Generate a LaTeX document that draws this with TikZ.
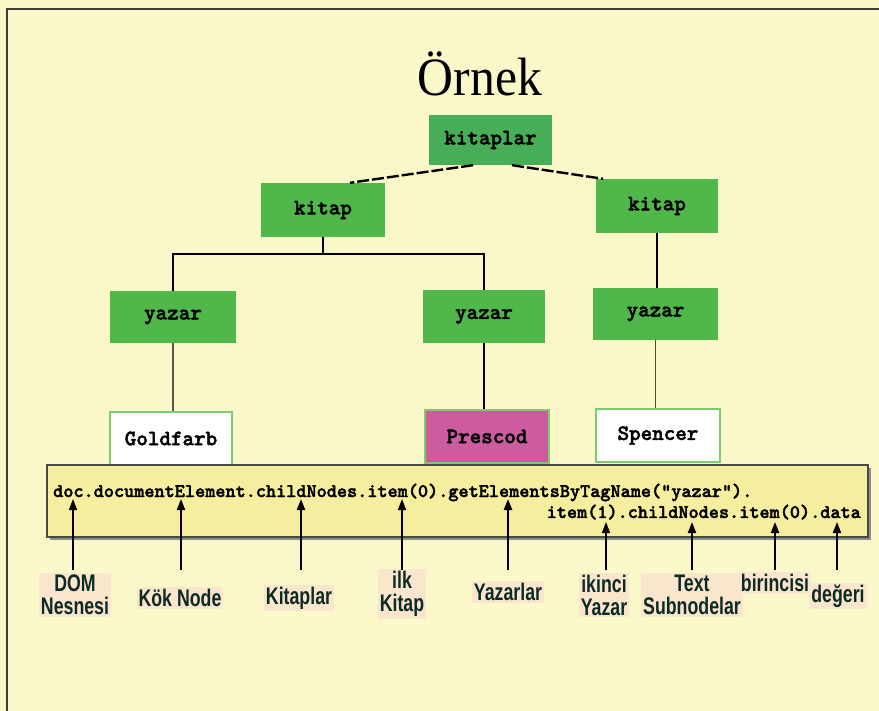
\documentclass[tikz,border=0pt]{standalone}
\usepackage{fontspec}
\setmainfont{Liberation Serif}
\newfontfamily\labfont{Liberation Sans}
\newfontfamily\codebf{lmmonolt10-bold.otf}[FakeBold=2]
\usetikzlibrary{arrows.meta}
\definecolor{bgc}{HTML}{FAF7C8}
\definecolor{framec}{HTML}{3A3A36}
\definecolor{grn}{HTML}{50B84A}
\definecolor{grnk}{HTML}{47AD58}
\definecolor{grnb}{HTML}{7ECB6C}
\definecolor{mag}{HTML}{CC5BA0}
\definecolor{codebg}{HTML}{F5EE9E}
\definecolor{codebd}{HTML}{4A4A42}
\definecolor{labbg}{HTML}{F9E6CC}
\definecolor{txt}{HTML}{0E2A26}
\newcommand{\lbl}[1]{\scalebox{0.74}[1]{#1}}
\tikzset{
  treebox/.style={rectangle, minimum height=53pt, inner sep=0pt, font=\codebf\fontsize{22}{24}\selectfont, text=black},
  greenbox/.style={treebox, fill=grn},
  valbox/.style={treebox, fill=white, draw=grnb, line width=1.5pt},
  treeline/.style={draw=black, line width=2pt},
  thinline/.style={draw=black!65, line width=1.6pt},
  lab/.style={fill=labbg, inner sep=2pt, align=center, text=txt, font=\labfont\bfseries\fontsize{24}{23}\selectfont},
  arr/.style={draw=black, line width=1.8pt, -{Triangle[length=11pt,width=8pt]}},
  arrthin/.style={draw=black, line width=1.2pt, -{Triangle[length=11pt,width=8pt]}},
  codetxt/.style={inner sep=0pt, font=\codebf\fontsize{19.3}{20}\selectfont, text=black}
}
\begin{document}
\begin{tikzpicture}[x=1pt,y=-1pt]
\fill[bgc] (0,0) rectangle (879,711);
\useasboundingbox (0,0) rectangle (879,711);
\draw[framec, line width=1.6pt] (7,711) -- (7,9) -- (879,9);

% title
\node[anchor=base, inner sep=0pt, font=\fontsize{54}{54}\selectfont] (title) at (480,96) {\scalebox{0.92}[1]{Örnek}};

% tree nodes
\node[greenbox, fill=grnk, minimum width=123pt, minimum height=50pt] (kitaplar) at (490.5,140) {kitaplar};
\node[greenbox, minimum width=124pt, minimum height=54pt] (kitapL) at (323,210) {kitap};
\node[greenbox, minimum width=122pt, minimum height=54pt] (kitapR) at (657,206) {kitap};
\node[greenbox, minimum width=126pt, minimum height=52pt] (yazarL) at (173,317) {yazar};
\node[greenbox, minimum width=122pt] (yazarM) at (484,316.5) {yazar};
\node[greenbox, minimum width=125pt, minimum height=52pt] (yazarR) at (655.5,314) {yazar};
\node[valbox, minimum width=122pt] (gold) at (171,438.5) {Goldfarb};
\node[treebox, fill=mag, draw=grnb, line width=1.5pt, minimum width=124pt] (pres) at (487,436.5) {Prescod};
\node[valbox, minimum width=124pt] (spen) at (658,435.5) {Spencer};

% tree connectors
\draw[treeline, line width=2.4pt, dash pattern=on 12pt off 3pt] ([xshift=-17.5pt]kitaplar.south) -- ([xshift=27pt]kitapL.north);
\draw[treeline, line width=2.4pt, dash pattern=on 12pt off 3pt] ([xshift=21.5pt]kitaplar.south) -- ([xshift=-54pt]kitapR.north);
\coordinate (jL) at (323,254);
\draw[treeline] (kitapL.south) -- (jL);
\draw[treeline] (jL) -| (yazarL.north);
\draw[treeline] (jL) -| (yazarM.north);
\draw[treeline, line width=1.8pt] (kitapR.south) -- (kitapR.south |- yazarR.north);
\draw[thinline] (yazarL.south) -- (yazarL.south |- gold.north);
\draw[treeline, line width=2.6pt] (yazarM.south) -- (yazarM.south |- pres.north);
\draw[thinline, draw=black!60!olive] (yazarR.south) -- (yazarR.south |- spen.north);

% code box
\fill[black!45] (50,468) rectangle (871,540);
\node[rectangle, fill=codebg, draw=codebd, line width=2pt, minimum width=821pt, minimum height=72pt, inner sep=0pt] (code) at (457.5,501) {};
\node[codetxt, anchor=base west] (line1) at (53,497) {doc.documentElement.childNodes.item(0).getElementsByTagName(“yazar").};
\node[codetxt, anchor=base east] (line2) at (861,518) {item(1).childNodes.item(0).data};

% labels
\node[lab] (l1) at (75,595) {\lbl{DOM}\\\lbl{Nesnesi}};
\node[lab] (l2) at (180,598) {\lbl{Kök Node}};
\node[lab] (l3) at (299,598) {\lbl{Kitaplar}};
\node[lab] (l4) at (402,594) {\lbl{ilk}\\\lbl{Kitap}};
\node[lab] (l5) at (508,592) {\lbl{Yazarlar}};
\node[lab] (l6) at (604,595) {\lbl{ikinci}\\\lbl{Yazar}};
\node[lab] (l7) at (692,595) {\lbl{Text}\\\lbl{Subnodelar}};
\node[lab] (l8) at (775,583) {\lbl{birincisi}};
\node[lab] (l9) at (838,596) {\lbl{değeri}};

% arrows
\foreach \i/\x/\t in {1/73/499,2/181/499,3/301/499,4/402/499,5/508/499,6/606/522,7/692/522,8/775/522,9/837/522}{
  \coordinate (b\i) at (\x,570);
  \coordinate (t\i) at (\x,\t);
}
\draw[arrthin] (b1) -- (t1);
\draw[arr] (b2) -- (t2);
\draw[arr, line width=2.2pt] (b3) -- (t3);
\draw[arrthin] (b4) -- (t4);
\draw[arr, line width=2.2pt] (b5) -- (t5);
\draw[arrthin] (b6) -- (t6);
\draw[arr] (b7) -- (t7);
\draw[arr] (b8) -- (t8);
\draw[arr] (b9) -- (t9);
\end{tikzpicture}
\end{document}
